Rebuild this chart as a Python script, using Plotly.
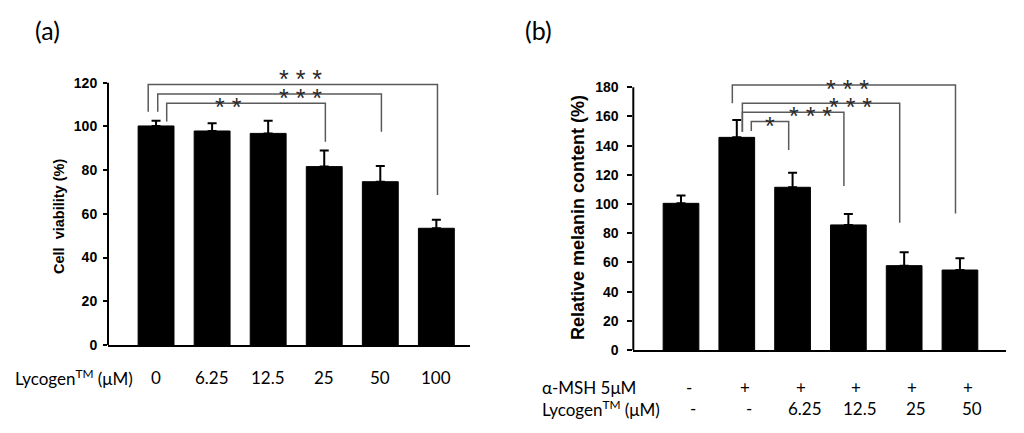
import plotly.graph_objects as go

# panel (a): cell viability
dose_a = ["0", "6.25", "12.5", "25", "50", "100"]
viab = [100.2, 97.9, 96.8, 81.6, 74.7, 53.4]
viab_err = [2.4, 3.5, 5.8, 7.4, 7.2, 3.9]

# panel (b): melanin content
msh_b = ["-", "+", "+", "+", "+", "+"]
dose_b = ["-", "-", "6.25", "12.5", "25", "50"]
melanin = [100.5, 145.7, 111.5, 85.7, 57.8, 54.8]
melanin_err = [5.3, 11.9, 10.0, 7.5, 9.1, 8.0]

# significance brackets: (x left, x right, y bar, y left end, y right end, stars, star x, star y)
sig_a = [
    (-0.14, 5.02, 119.2, 106.7, 68.6, "* * *", 2.57, 124.8),
    (0.03, 4.02, 114.8, 106.7, 97.6, "* * *", 2.57, 116.0),
    (0.19, 3.02, 110.6, 102.2, 93.0, "* *", 1.29, 112.2),
]
sig_b = [
    (0.92, 4.92, 181.6, 169.0, 93.6, "* * *", 2.99, 183.9),
    (1.10, 3.92, 169.0, 149.6, 87.2, "* * *", 3.03, 171.3),
    (1.10, 2.92, 162.9, 149.6, 112.4, "* * *", 2.33, 164.9),
    (1.26, 1.93, 156.6, 150.0, 137.0, "*", 1.60, 158.0),
]

W, H = 1024, 433
BOLD = "Liberation Sans"
BODY = "Lato"
GRAY = "#5a5a5a"

fig = go.Figure()

pos = list(range(6))
fig.add_trace(go.Bar(
    x=pos, y=viab, width=0.64, marker=dict(color="black", line=dict(color="black", width=1)),
    error_y=dict(type="data", array=viab_err, arrayminus=[0] * 6, symmetric=False,
                 color="black", thickness=2, width=4.5),
    xaxis="x", yaxis="y", showlegend=False,
))
fig.add_trace(go.Bar(
    x=pos, y=melanin, width=0.64, marker=dict(color="black", line=dict(color="black", width=1)),
    error_y=dict(type="data", array=melanin_err, arrayminus=[0] * 6, symmetric=False,
                 color="black", thickness=2, width=4.5),
    xaxis="x2", yaxis="y2", showlegend=False,
))

axis_common = dict(showgrid=False, zeroline=False, automargin=False)
fig.update_layout(
    width=W, height=H,
    margin=dict(l=0, r=0, t=0, b=0),
    paper_bgcolor="white", plot_bgcolor="white",
    xaxis=dict(domain=[108 / W, 470 / W], range=[-0.857, 5.6], showticklabels=False, ticks="",
               showline=True, linecolor="black", linewidth=2, anchor="y", **axis_common),
    yaxis=dict(domain=[1 - 345 / H, 1 - 345 / H + 130 * 2.186 / H], range=[0, 130],
               tickvals=[0, 20, 40, 60, 80, 100, 120], ticks="outside", ticklen=4, tickwidth=1.5,
               tickcolor="black", ticklabelstandoff=3, anchor="x",
               tickfont=dict(family=BOLD, size=14, color="black", weight="bold"), **axis_common),
    xaxis2=dict(domain=[633.3 / W, 1005.7 / W], range=[-0.855, 5.82], showticklabels=False, ticks="",
                showline=True, linecolor="black", linewidth=2, anchor="y2", **axis_common),
    yaxis2=dict(domain=[1 - 350 / H, 1 - 350 / H + 190 * 1.4594 / H], range=[0, 190],
                tickvals=[0, 20, 40, 60, 80, 100, 120, 140, 160, 180], ticks="outside", ticklen=5,
                tickwidth=1.5, tickcolor="black", ticklabelstandoff=6, anchor="x2",
                tickfont=dict(family=BOLD, size=14, color="black", weight="bold"), **axis_common),
)

# y axis lines only up to the top tick
fig.add_shape(type="line", xref="x domain", yref="y", x0=0, x1=0, y0=0, y1=120,
              line=dict(color="black", width=2))
fig.add_shape(type="line", xref="x2 domain", yref="y2", x0=0, x1=0, y0=0, y1=180,
              line=dict(color="black", width=2))


def add_brackets(sigs, xr, yr):
    for xl, xrt, yb, yl, yrt, stars, sx, sy in sigs:
        fig.add_shape(type="path", xref=xr, yref=yr,
                      path=f"M {xl},{yl} L {xl},{yb} L {xrt},{yb} L {xrt},{yrt}",
                      line=dict(color=GRAY, width=1.5))
        fig.add_annotation(x=sx, y=sy, xref=xr, yref=yr, text=stars, showarrow=False,
                           xanchor="center", yanchor="middle", yshift=-7,
                           font=dict(family=BOLD, size=25, color="#2a2a2a"))


add_brackets(sig_a, "x", "y")
add_brackets(sig_b, "x2", "y2")


def note(x, y, text, font, xref="paper", xanchor="center", **kw):
    fig.add_annotation(x=x, y=y, xref=xref, yref="paper", text=text, showarrow=False,
                       xanchor=xanchor, yanchor="middle", font=font, **kw)


# axis titles
note(59 / W, 1 - 217 / H, "Cell  viability (%)",
     dict(family=BOLD, size=14.5, color="black", weight="bold"), textangle=-90)
note(578 / W, 1 - 218 / H, "Relative melanin content (%)",
     dict(family=BOLD, size=18, color="black", weight="bold"), textangle=-90)

# category labels under the axes
lab_font = dict(family=BODY, size=17, color="black")
for i, d in enumerate(dose_a):
    note(pos[i], 1 - 377 / H, d, lab_font, xref="x")
for i, (m, d) in enumerate(zip(msh_b, dose_b)):
    note(pos[i], 1 - 387 / H, m, lab_font, xref="x2", xshift=8)
    note(pos[i], 1 - 408 / H, d, lab_font, xref="x2", xshift=12)

note(13 / W, 1 - 377 / H, "Lycogen<sup>TM</sup> (μM)", lab_font, xanchor="left")
note(540 / W, 1 - 387 / H, "α-MSH 5μM", lab_font, xanchor="left")
note(540 / W, 1 - 408 / H, "Lycogen<sup>TM</sup> (μM)", lab_font, xanchor="left")

# panel letters
note(47 / W, 1 - 30 / H, "(a)", dict(family=BODY, size=25, color="black"))
note(538 / W, 1 - 30 / H, "(b)", dict(family=BODY, size=25, color="black"))

# drop the default page margin so the figure sits at the window corner
fig.write_html("out.html", config={"displayModeBar": False},
               post_script="document.body.style.margin = '0';")
